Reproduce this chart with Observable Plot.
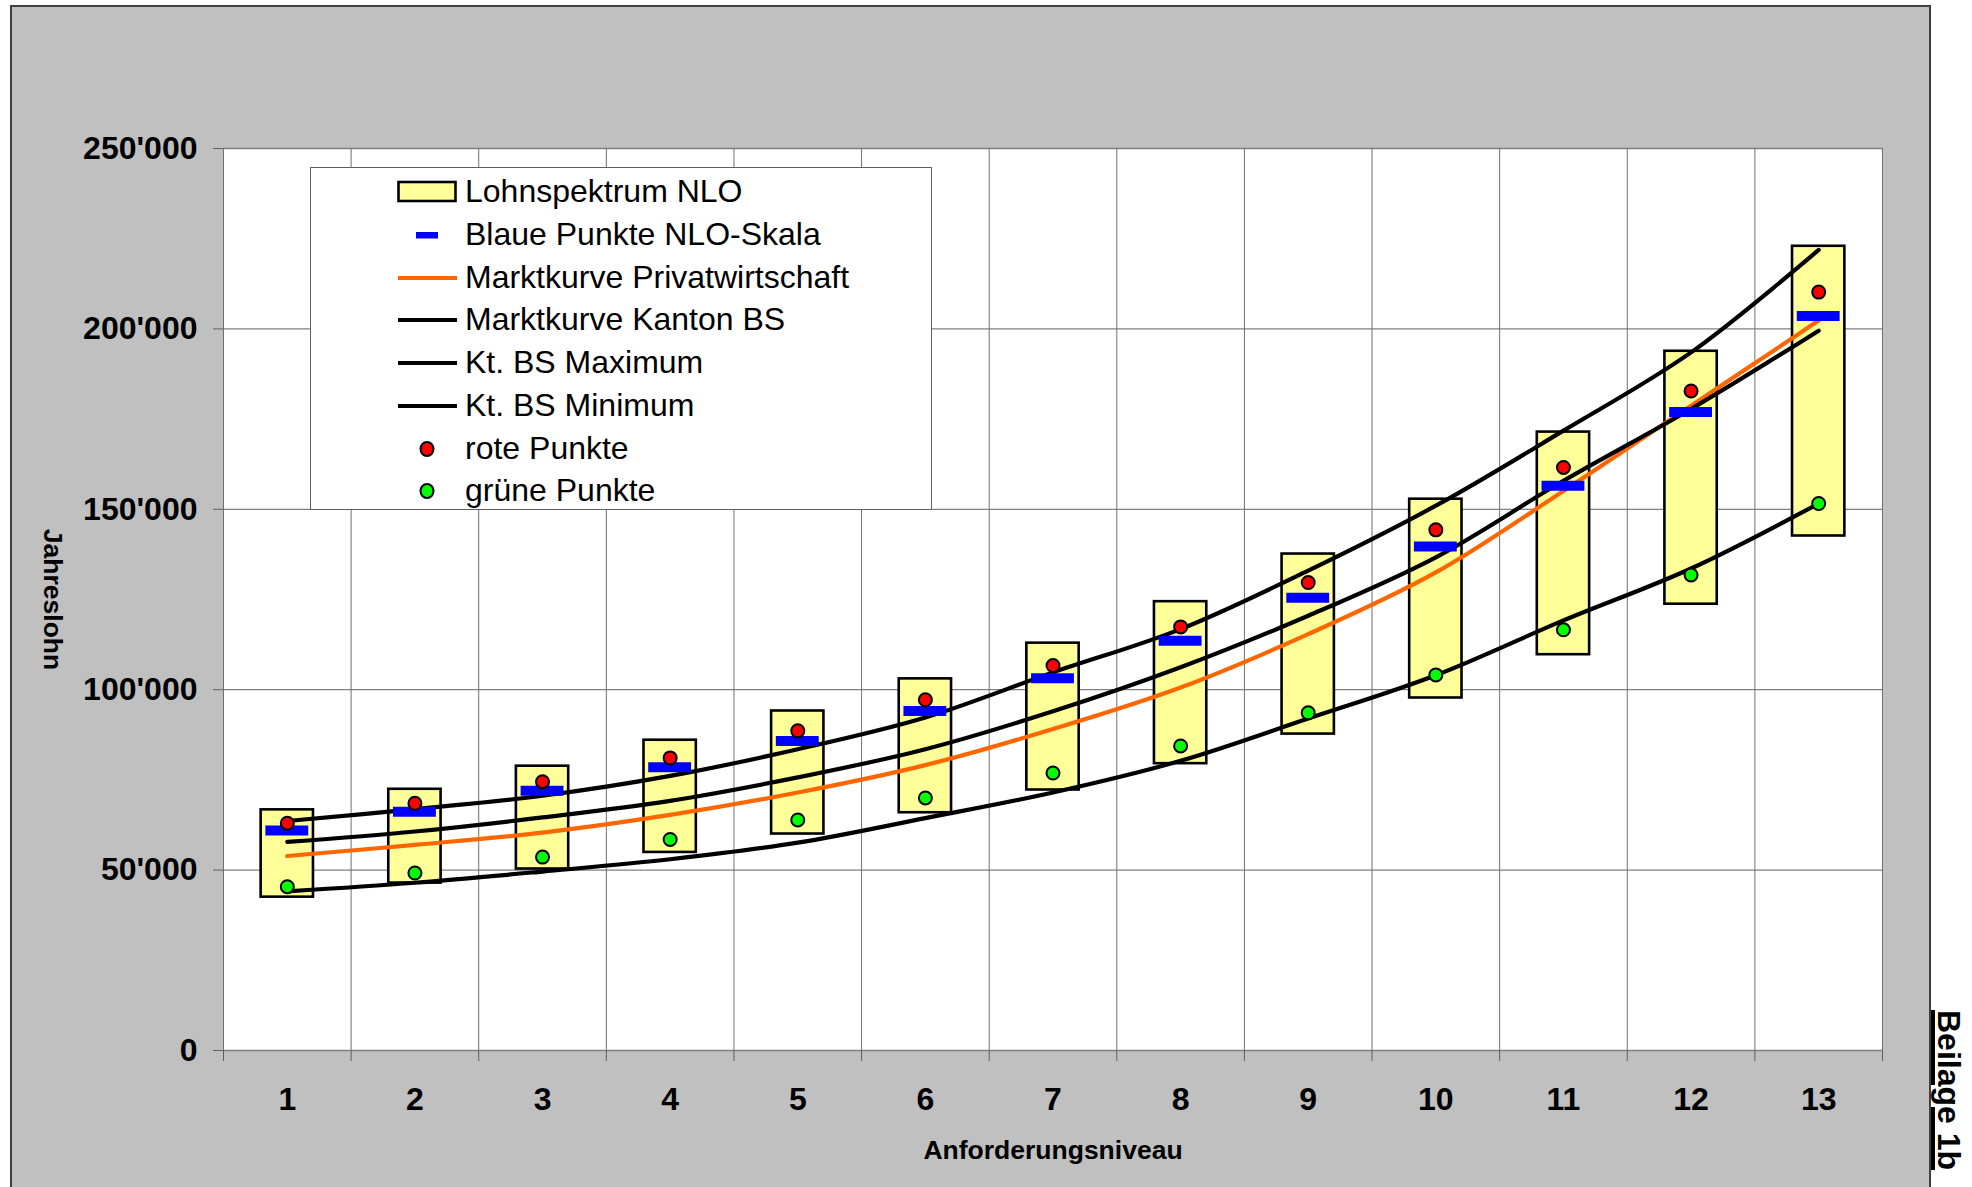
<!DOCTYPE html>
<html>
<head>
<meta charset="utf-8">
<script src="https://cdn.jsdelivr.net/npm/d3@7"></script>
<script src="https://cdn.jsdelivr.net/npm/@observablehq/plot@0.6"></script>
<style>
  html, body { margin: 0; padding: 0; background: white; }
  body { width: 1972px; height: 1187px; overflow: hidden; position: relative; font-family: "Liberation Sans", Arial, sans-serif; }
  #bg { position: absolute; left: 10px; top: 5px; width: 1917px; height: 1200px; background: #c0c0c0;
        border-left: 2px solid #404040; border-top: 2px solid #404040; border-right: 2px solid #404040; }
  #chart { position: absolute; left: 0; top: 0; }
  #legend { position: absolute; left: 310px; top: 167px; width: 620px; height: 341px; background: white; border: 1.5px solid #606060; }
  .row { position: absolute; left: 0; height: 42px; width: 100%; }
  .row svg { position: absolute; left: 86px; top: 6px; }
  .row span { position: absolute; left: 154px; top: 2px; font-size: 32px; line-height: 37px; color: black; white-space: nowrap; }
  #beilage { position: absolute; left: 1966px; top: 1010px; font: bold 32px "Liberation Sans", Arial, sans-serif; line-height: 34px;
             white-space: nowrap; text-decoration: underline; text-decoration-thickness: 4px; text-underline-offset: 3px;
             transform-origin: 0 0; transform: rotate(90deg); color: black; }
</style>
</head>
<body>
<div id="bg"></div>
<div id="chart"></div>
<div id="legend"></div>
<div id="beilage">Beilage 1b</div>
<script>
// ---- data (Jahreslohn in CHF) ----
const categories  = [1, 2, 3, 4, 5, 6, 7, 8, 9, 10, 11, 12, 13];
const spektrumMin = [42500, 46400, 50300, 54900, 60000, 65900, 72200, 79500, 87700, 97700, 109700, 123700, 142600];
const spektrumMax = [66700, 72400, 78800, 86000, 94100, 103000, 112900, 124400, 137600, 152800, 171400, 193800, 222900];
const blauePunkte = [61000, 66200, 72000, 78500, 85800, 94100, 103200, 113600, 125500, 139700, 156500, 177000, 203600];
const rotePunkte  = [63000, 68500, 74500, 81100, 88600, 97200, 106700, 117400, 129700, 144300, 161600, 182800, 210200];
const gruenePunkte= [45400, 49200, 53600, 58500, 63900, 70000, 76900, 84400, 93600, 104100, 116600, 131800, 151600];
const marktPrivat = [53900, 57000, 60400, 65300, 71500, 79100, 89100, 100600, 115400, 132500, 155100, 178700, 202300];
const marktKanton = [57800, 60700, 64600, 69200, 75700, 83500, 94000, 106200, 120500, 136700, 157900, 177800, 199500];
const ktMaximum   = [63600, 66900, 70600, 76100, 83500, 92300, 104800, 116800, 133000, 151000, 171800, 193500, 221900];
const ktMinimum   = [44100, 46500, 49600, 53000, 57600, 64400, 71500, 80300, 92000, 104000, 119200, 133600, 151600];
const yTicks = [0, 50000, 100000, 150000, 200000, 250000];
const legendItems = [
  {label: "Lohnspektrum NLO", kind: "box"},
  {label: "Blaue Punkte NLO-Skala", kind: "blue"},
  {label: "Marktkurve Privatwirtschaft", kind: "orange"},
  {label: "Marktkurve Kanton BS", kind: "black"},
  {label: "Kt. BS Maximum", kind: "black"},
  {label: "Kt. BS Minimum", kind: "black"},
  {label: "rote Punkte", kind: "red"},
  {label: "grüne Punkte", kind: "green"}
];

const rows = categories.map((c, i) => ({
  cat: c, low: spektrumMin[i], high: spektrumMax[i], blue: blauePunkte[i],
  red: rotePunkte[i], green: gruenePunkte[i], privat: marktPrivat[i],
  kanton: marktKanton[i], max: ktMaximum[i], min: ktMinimum[i]
}));
const edges = [categories[0] - 0.5, ...categories.map(c => c + 0.5)];

const BOX_HALF = 0.205, BLUE_HALF = 0.168;
const fmt = d => d3.format(",")(d).replace(/,/g, "'");
const GRID = "#808080";
const LW = 4.2;

const chart = Plot.plot({
  width: 1972, height: 1187,
  marginLeft: 223, marginRight: 90, marginTop: 148, marginBottom: 137,
  style: {background: "transparent", fontFamily: "'Liberation Sans', Arial, sans-serif", fontWeight: "bold", fontSize: "32px", color: "black", overflow: "visible"},
  x: {type: "linear", domain: [0.5, 13.5], label: null},
  y: {domain: [0, 250000], label: null},
  marks: [
    Plot.frame({fill: "white", stroke: GRID}),
    Plot.gridY({ticks: yTicks, stroke: GRID, strokeOpacity: 1, strokeWidth: 1.3}),
    Plot.gridX({ticks: edges, stroke: "#707070", strokeOpacity: 1, strokeWidth: 1}),
    Plot.axisY({ticks: yTicks, tickSize: 10, tickFormat: () => "", stroke: "#606060", label: null}),
    Plot.axisY({ticks: yTicks, tickSize: 0, tickPadding: 26, tickFormat: fmt, fontSize: 32, fontWeight: "bold", label: null}),
    Plot.axisX({ticks: edges, tickSize: 11, tickFormat: () => "", stroke: "#606060", label: null}),
    Plot.axisX({ticks: categories, tickSize: 0, tickPadding: 37, tickFormat: d => String(d), fontSize: 32, fontWeight: "bold", label: null}),
    Plot.rect(rows, {x1: d => d.cat - BOX_HALF, x2: d => d.cat + BOX_HALF, y1: "low", y2: "high",
                     fill: "#ffff99", stroke: "black", strokeWidth: 2.6}),
    Plot.line(rows, {x: "cat", y: "privat", stroke: "#ff6600", strokeWidth: LW, curve: "catmull-rom"}),
    Plot.line(rows, {x: "cat", y: "kanton", stroke: "black", strokeWidth: LW, curve: "catmull-rom"}),
    Plot.line(rows, {x: "cat", y: "max", stroke: "black", strokeWidth: LW, curve: "catmull-rom"}),
    Plot.line(rows, {x: "cat", y: "min", stroke: "black", strokeWidth: LW, curve: "catmull-rom"}),
    Plot.ruleY(rows, {y: "blue", x1: d => d.cat - BLUE_HALF, x2: d => d.cat + BLUE_HALF, stroke: "#0000ff", strokeWidth: 10}),
    Plot.dot(rows, {x: "cat", y: "red", r: 6.5, fill: "#ff0000", stroke: "black", strokeWidth: 2}),
    Plot.dot(rows, {x: "cat", y: "green", r: 6.5, fill: "#00ff00", stroke: "black", strokeWidth: 2}),
    Plot.text(["Anforderungsniveau"], {frameAnchor: "bottom", dy: 100, lineAnchor: "middle", textAnchor: "middle", fontSize: 26.5, fontWeight: "bold"}),
    Plot.text(["Jahreslohn"], {frameAnchor: "left", dx: -171, rotate: 90, lineAnchor: "middle", textAnchor: "middle", fontSize: 26.5, fontWeight: "bold"})
  ]
});
document.getElementById("chart").appendChild(chart);

// ---- legend ----
const legend = document.getElementById("legend");
const ns = "http://www.w3.org/2000/svg";
legendItems.forEach((item, k) => {
  const row = document.createElement("div");
  row.className = "row";
  row.style.top = (3.3 + k * 42.7) + "px";
  const svg = document.createElementNS(ns, "svg");
  svg.setAttribute("width", 62); svg.setAttribute("height", 30);
  let el;
  if (item.kind === "box") {
    el = document.createElementNS(ns, "rect");
    el.setAttribute("x", 1.5); el.setAttribute("y", 5); el.setAttribute("width", 57); el.setAttribute("height", 19);
    el.setAttribute("fill", "#ffff99"); el.setAttribute("stroke", "black"); el.setAttribute("stroke-width", 2.6);
  } else if (item.kind === "blue") {
    el = document.createElementNS(ns, "rect");
    el.setAttribute("x", 19); el.setAttribute("y", 12); el.setAttribute("width", 22); el.setAttribute("height", 6.5);
    el.setAttribute("fill", "#0000ff");
  } else if (item.kind === "orange" || item.kind === "black") {
    el = document.createElementNS(ns, "line");
    el.setAttribute("x1", 1); el.setAttribute("x2", 60); el.setAttribute("y1", 15); el.setAttribute("y2", 15);
    el.setAttribute("stroke", item.kind === "orange" ? "#ff6600" : "black"); el.setAttribute("stroke-width", 4.2);
  } else {
    el = document.createElementNS(ns, "ellipse");
    el.setAttribute("cx", 30); el.setAttribute("cy", 15); el.setAttribute("rx", 6.5); el.setAttribute("ry", 7);
    el.setAttribute("fill", item.kind === "red" ? "#ff0000" : "#00ff00"); el.setAttribute("stroke", "black"); el.setAttribute("stroke-width", 2);
  }
  svg.appendChild(el);
  row.appendChild(svg);
  const span = document.createElement("span");
  span.textContent = item.label;
  row.appendChild(span);
  legend.appendChild(row);
});
</script>
</body>
</html>
